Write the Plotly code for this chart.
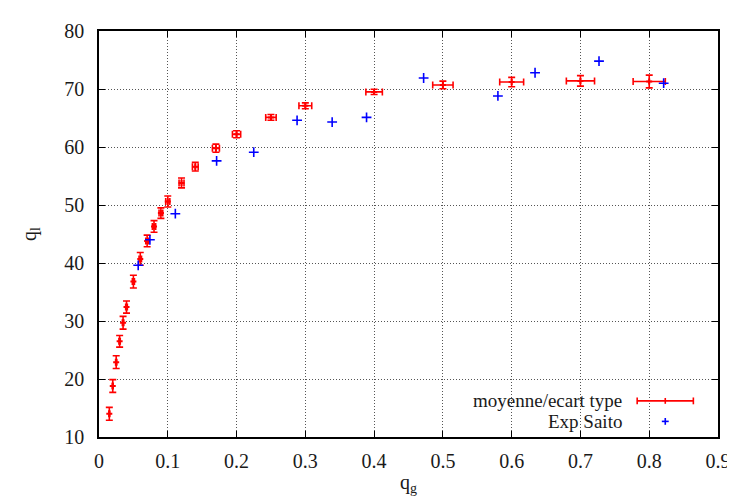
import plotly.graph_objects as go

# Simulation: mean / standard deviation
qg_mean = [0.015, 0.02, 0.025, 0.03, 0.035, 0.04, 0.05, 0.06, 0.07, 0.08, 0.09, 0.10,
           0.12, 0.14, 0.17, 0.20, 0.25, 0.30, 0.40, 0.50, 0.60, 0.70, 0.80]
ql_mean = [14.0, 18.8, 22.9, 26.5, 29.7, 32.4, 36.8, 40.7, 43.8, 46.3, 48.6, 50.6,
           53.8, 56.6, 59.8, 62.2, 65.1, 67.1, 69.5, 70.7, 71.2, 71.4, 71.3]
ql_std = [1.1, 1.1, 1.1, 1.0, 1.1, 1.05, 1.1, 1.1, 1.0, 1.0, 0.9, 0.95,
          0.85, 0.75, 0.7, 0.6, 0.5, 0.5, 0.45, 0.65, 0.8, 0.9, 1.1]
qg_std = [0.0005, 0.0006, 0.0008, 0.0009, 0.001, 0.0012, 0.0015, 0.0018, 0.002, 0.0024,
          0.0027, 0.003, 0.0036, 0.0042, 0.0051, 0.006, 0.0076, 0.0093, 0.012, 0.0148,
          0.0174, 0.0205, 0.0234]

# Experiment (Saito)
qg_exp = [0.057, 0.074, 0.111, 0.171, 0.225, 0.288, 0.339, 0.389, 0.472, 0.580, 0.634, 0.727, 0.821]
ql_exp = [39.6, 44.0, 48.5, 57.6, 59.1, 64.6, 64.3, 65.1, 71.9, 68.8, 72.8, 74.8, 71.0]

x_ticks = [0, 0.1, 0.2, 0.3, 0.4, 0.5, 0.6, 0.7, 0.8, 0.9]
y_ticks = [10, 20, 30, 40, 50, 60, 70, 80]

FONT = "Liberation Serif"
FS = 20
TXT = "#1a1a1a"
RED = "#ff0000"
BLUE = "#0000ff"

fig = go.Figure()
fig.add_trace(go.Scatter(
    x=qg_mean, y=ql_mean, mode="markers", name="moyenne/ecart type",
    marker=dict(symbol="cross", size=5, color=RED),
    error_y=dict(type="data", array=ql_std, color=RED, thickness=1.6, width=3.5),
    error_x=dict(type="data", array=qg_std, color=RED, thickness=1.6, width=3.5),
    showlegend=False,
))
fig.add_trace(go.Scatter(
    x=qg_exp, y=ql_exp, mode="markers", name="Exp Saito",
    marker=dict(symbol="cross-thin", size=7, color=BLUE, line=dict(color=BLUE, width=1.6)),
    showlegend=False,
))

axis_common = dict(
    showline=True, linecolor="black", linewidth=1.5, mirror="allticks",
    ticks="inside", ticklen=6, tickcolor="black", tickwidth=1,
    showgrid=True, gridcolor="#555555", griddash="1px,2px", gridwidth=1,
    zeroline=False, tickfont=dict(family=FONT, size=FS, color=TXT),
    ticklabeloverflow="allow",
)

fig.update_xaxes(range=[0, 0.9], tickvals=x_ticks, ticktext=[("%g" % v) for v in x_ticks],
                 ticklabelstandoff=5,
                 title=dict(text="q<sub>g</sub>", font=dict(family=FONT, size=FS, color=TXT), standoff=4),
                 **axis_common)
fig.update_yaxes(range=[10, 80], tickvals=y_ticks, ticklabelstandoff=9,
                 title=dict(text="q<sub>l</sub>", font=dict(family=FONT, size=FS, color=TXT), standoff=22),
                 **axis_common)

# Legend (gnuplot style: text left, sample right), drawn in paper coords
W, H = 628.0, 416.0
def px(X):
    return (X - 91) / W
def py(Y):
    return (429 - Y) / H

ROW1, ROW2 = 392.0, 413.0
shapes = [
    dict(type="rect", xref="paper", yref="paper", x0=px(400), x1=px(718), y0=py(428), y1=py(380),
         fillcolor="white", line=dict(width=0), layer="between"),
    # red errorbar sample
    dict(type="line", xref="paper", yref="paper", x0=px(637), x1=px(694), y0=py(ROW1), y1=py(ROW1),
         line=dict(color=RED, width=1.6)),
    dict(type="line", xref="paper", yref="paper", x0=px(637), x1=px(637), y0=py(ROW1 - 3.5), y1=py(ROW1 + 3.5),
         line=dict(color=RED, width=1.6)),
    dict(type="line", xref="paper", yref="paper", x0=px(694), x1=px(694), y0=py(ROW1 - 3.5), y1=py(ROW1 + 3.5),
         line=dict(color=RED, width=1.6)),
    dict(type="line", xref="paper", yref="paper", x0=px(665.5), x1=px(665.5), y0=py(ROW1 - 3), y1=py(ROW1 + 3),
         line=dict(color=RED, width=1.6)),
    # blue plus sample
    dict(type="line", xref="paper", yref="paper", x0=px(662), x1=px(669), y0=py(ROW2), y1=py(ROW2),
         line=dict(color=BLUE, width=1.6)),
    dict(type="line", xref="paper", yref="paper", x0=px(665.5), x1=px(665.5), y0=py(ROW2 - 3.5), y1=py(ROW2 + 3.5),
         line=dict(color=BLUE, width=1.6)),
]
annotations = [
    dict(text="moyenne/ecart type", xref="paper", yref="paper", x=px(624), y=py(ROW1),
         xanchor="right", yanchor="middle", showarrow=False,
         font=dict(family=FONT, size=19, color=TXT)),
    dict(text="Exp Saito", xref="paper", yref="paper", x=px(624), y=py(ROW2),
         xanchor="right", yanchor="middle", showarrow=False,
         font=dict(family=FONT, size=19, color=TXT)),
]

fig.update_layout(
    width=735, height=499,
    margin=dict(l=91, r=16, t=13, b=70),
    plot_bgcolor="white", paper_bgcolor="white",
    shapes=shapes, annotations=annotations,
    showlegend=False,
)

fig.write_html("out.html")
